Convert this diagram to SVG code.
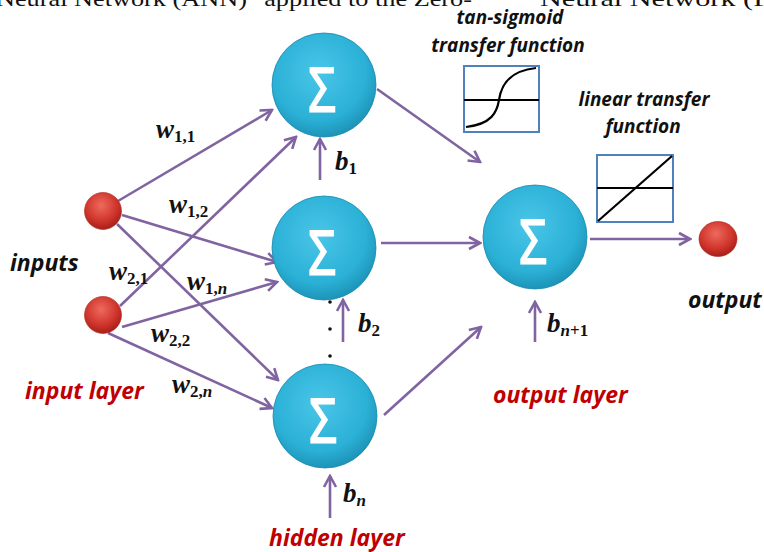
<svg xmlns="http://www.w3.org/2000/svg" width="764" height="552" viewBox="0 0 764 552">
<defs>
<radialGradient id="gNode" cx="0.45" cy="0.38" r="0.65">
<stop offset="0" stop-color="#49C6E8"/>
<stop offset="0.7" stop-color="#2BB0D6"/>
<stop offset="1" stop-color="#1B8FB3"/>
</radialGradient>
<radialGradient id="gDot" cx="0.45" cy="0.35" r="0.7">
<stop offset="0" stop-color="#EE6A5E"/>
<stop offset="0.6" stop-color="#D0352C"/>
<stop offset="1" stop-color="#9E1A15"/>
</radialGradient>
<marker id="arr" markerUnits="userSpaceOnUse" markerWidth="16" markerHeight="16" viewBox="0 0 16 16" refX="14" refY="8" orient="auto">
<path d="M3,2 L14,8 L3,14" fill="none" stroke="#8064A2" stroke-width="2.6" stroke-linejoin="miter"/>
</marker>
<style>
.con line{stroke:#8064A2;stroke-width:2.6;marker-end:url(#arr)}
.node{fill:url(#gNode);stroke:#1A8AAD;stroke-width:0.8}
.sig{font-family:"Open Sans","DejaVu Sans",sans-serif;font-size:60px;fill:#fff;stroke:#fff;stroke-width:2;text-anchor:middle}
.dot{fill:url(#gDot);stroke:#A8211B;stroke-width:0.6}
.lbl{font-family:"Open Sans","Liberation Sans",sans-serif;font-weight:bold;font-style:italic;font-size:19px;fill:#111}
.big{font-size:23px}
.red{fill:#C00000;font-size:23px}
.w{font-family:"Liberation Serif",serif;font-weight:bold;font-style:italic;font-size:27px;fill:#111}
.sub{font-style:normal;font-size:17px}
.subi{font-style:italic;font-size:17px}
.box{fill:#fff;stroke:#4F81BD;stroke-width:2}
.fn{fill:none;stroke:#000;stroke-width:2.2}
.top{font-family:"Liberation Serif",serif;font-size:22px;fill:#111}
</style>
</defs>
<rect width="764" height="552" fill="#fff"/>
<text class="top" x="-4" y="6" textLength="476" lengthAdjust="spacingAndGlyphs">Neural Network (ANN)" applied to the Zero-</text>
<text class="top" x="540" y="6" textLength="230" lengthAdjust="spacingAndGlyphs">Neural Network (F</text>

<g id="connectors" class="con">
<line x1="118" y1="201" x2="272" y2="110"/>
<line x1="122" y1="215" x2="277" y2="262"/>
<line x1="117" y1="224" x2="278" y2="380"/>
<line x1="120" y1="306" x2="296" y2="137"/>
<line x1="122" y1="327" x2="277" y2="282"/>
<line x1="108" y1="333" x2="272" y2="408"/>
<line x1="320" y1="180" x2="320" y2="139"/>
<line x1="343" y1="342" x2="343" y2="300"/>
<line x1="330" y1="518" x2="330" y2="476"/>
<line x1="535" y1="342" x2="535" y2="302"/>
<line x1="377" y1="89" x2="480" y2="162"/>
<line x1="381" y1="243" x2="480" y2="243"/>
<line x1="384" y1="415" x2="481" y2="327"/>
<line x1="590" y1="239" x2="690" y2="239"/>
</g>

<g id="in1"><circle class="dot" cx="103" cy="211" r="18.5"/></g>
<g id="in2"><circle class="dot" cx="103" cy="315" r="18.5"/></g>
<g id="out"><ellipse class="dot" cx="718" cy="239" rx="19" ry="17.5"/></g>

<g id="h1"><circle class="node" cx="324" cy="85" r="52"/><text class="sig" x="322" y="111" textLength="27" lengthAdjust="spacingAndGlyphs">Σ</text></g>
<g id="h2"><circle class="node" cx="324" cy="248" r="52"/><text class="sig" x="322" y="274" textLength="27" lengthAdjust="spacingAndGlyphs">Σ</text></g>
<g id="h3"><circle class="node" cx="325" cy="416" r="52"/><text class="sig" x="323" y="442" textLength="27" lengthAdjust="spacingAndGlyphs">Σ</text></g>
<g id="o1"><circle class="node" cx="535" cy="237" r="52"/><text class="sig" x="533" y="263" textLength="27" lengthAdjust="spacingAndGlyphs">Σ</text></g>

<g id="dots" fill="#111">
<circle cx="330" cy="302" r="1.8"/><circle cx="330" cy="329" r="1.8"/><circle cx="330" cy="356" r="1.8"/>
</g>

<g id="sigmoid">
<rect class="box" x="464" y="66" width="75" height="66"/>
<line class="fn" x1="464" y1="100" x2="539" y2="100"/>
<path class="fn" d="M466,127 C492,124 497,112 499,100 C501,86 508,71 536,68"/>
</g>
<g id="linear">
<rect class="box" x="597" y="155" width="76" height="67"/>
<line class="fn" x1="597" y1="188" x2="673" y2="188"/>
<line class="fn" x1="598" y1="221" x2="672" y2="156"/>
</g>

<g id="labels">
<text class="lbl" x="510" y="24" text-anchor="middle">tan-sigmoid</text>
<text class="lbl" x="508" y="52" text-anchor="middle">transfer function</text>
<text class="lbl" x="644" y="106" text-anchor="middle">linear transfer</text>
<text class="lbl" x="643" y="133" text-anchor="middle">function</text>
<text class="lbl big" x="10" y="271">inputs</text>
<text class="lbl big" x="688" y="308">output</text>
<text class="lbl red" x="25" y="399">input layer</text>
<text class="lbl red" x="269" y="546">hidden layer</text>
<text class="lbl red" x="493" y="403">output layer</text>
</g>

<g id="weights" class="w">
<text x="156" y="138">w<tspan class="sub" dy="4">1,1</tspan></text>
<text x="169" y="213">w<tspan class="sub" dy="4">1,2</tspan></text>
<text x="109" y="280">w<tspan class="sub" dy="4">2,1</tspan></text>
<text x="187" y="290">w<tspan class="sub" dy="4">1,</tspan><tspan class="subi">n</tspan></text>
<text x="151" y="342">w<tspan class="sub" dy="4">2,2</tspan></text>
<text x="172" y="393">w<tspan class="sub" dy="4">2,</tspan><tspan class="subi">n</tspan></text>
<text x="335" y="170">b<tspan class="sub" dy="4">1</tspan></text>
<text x="358" y="332">b<tspan class="sub" dy="4">2</tspan></text>
<text x="343" y="502">b<tspan class="subi" dy="4">n</tspan></text>
<text x="547" y="332">b<tspan class="subi" dy="4">n</tspan><tspan class="sub">+1</tspan></text>
</g>
</svg>
